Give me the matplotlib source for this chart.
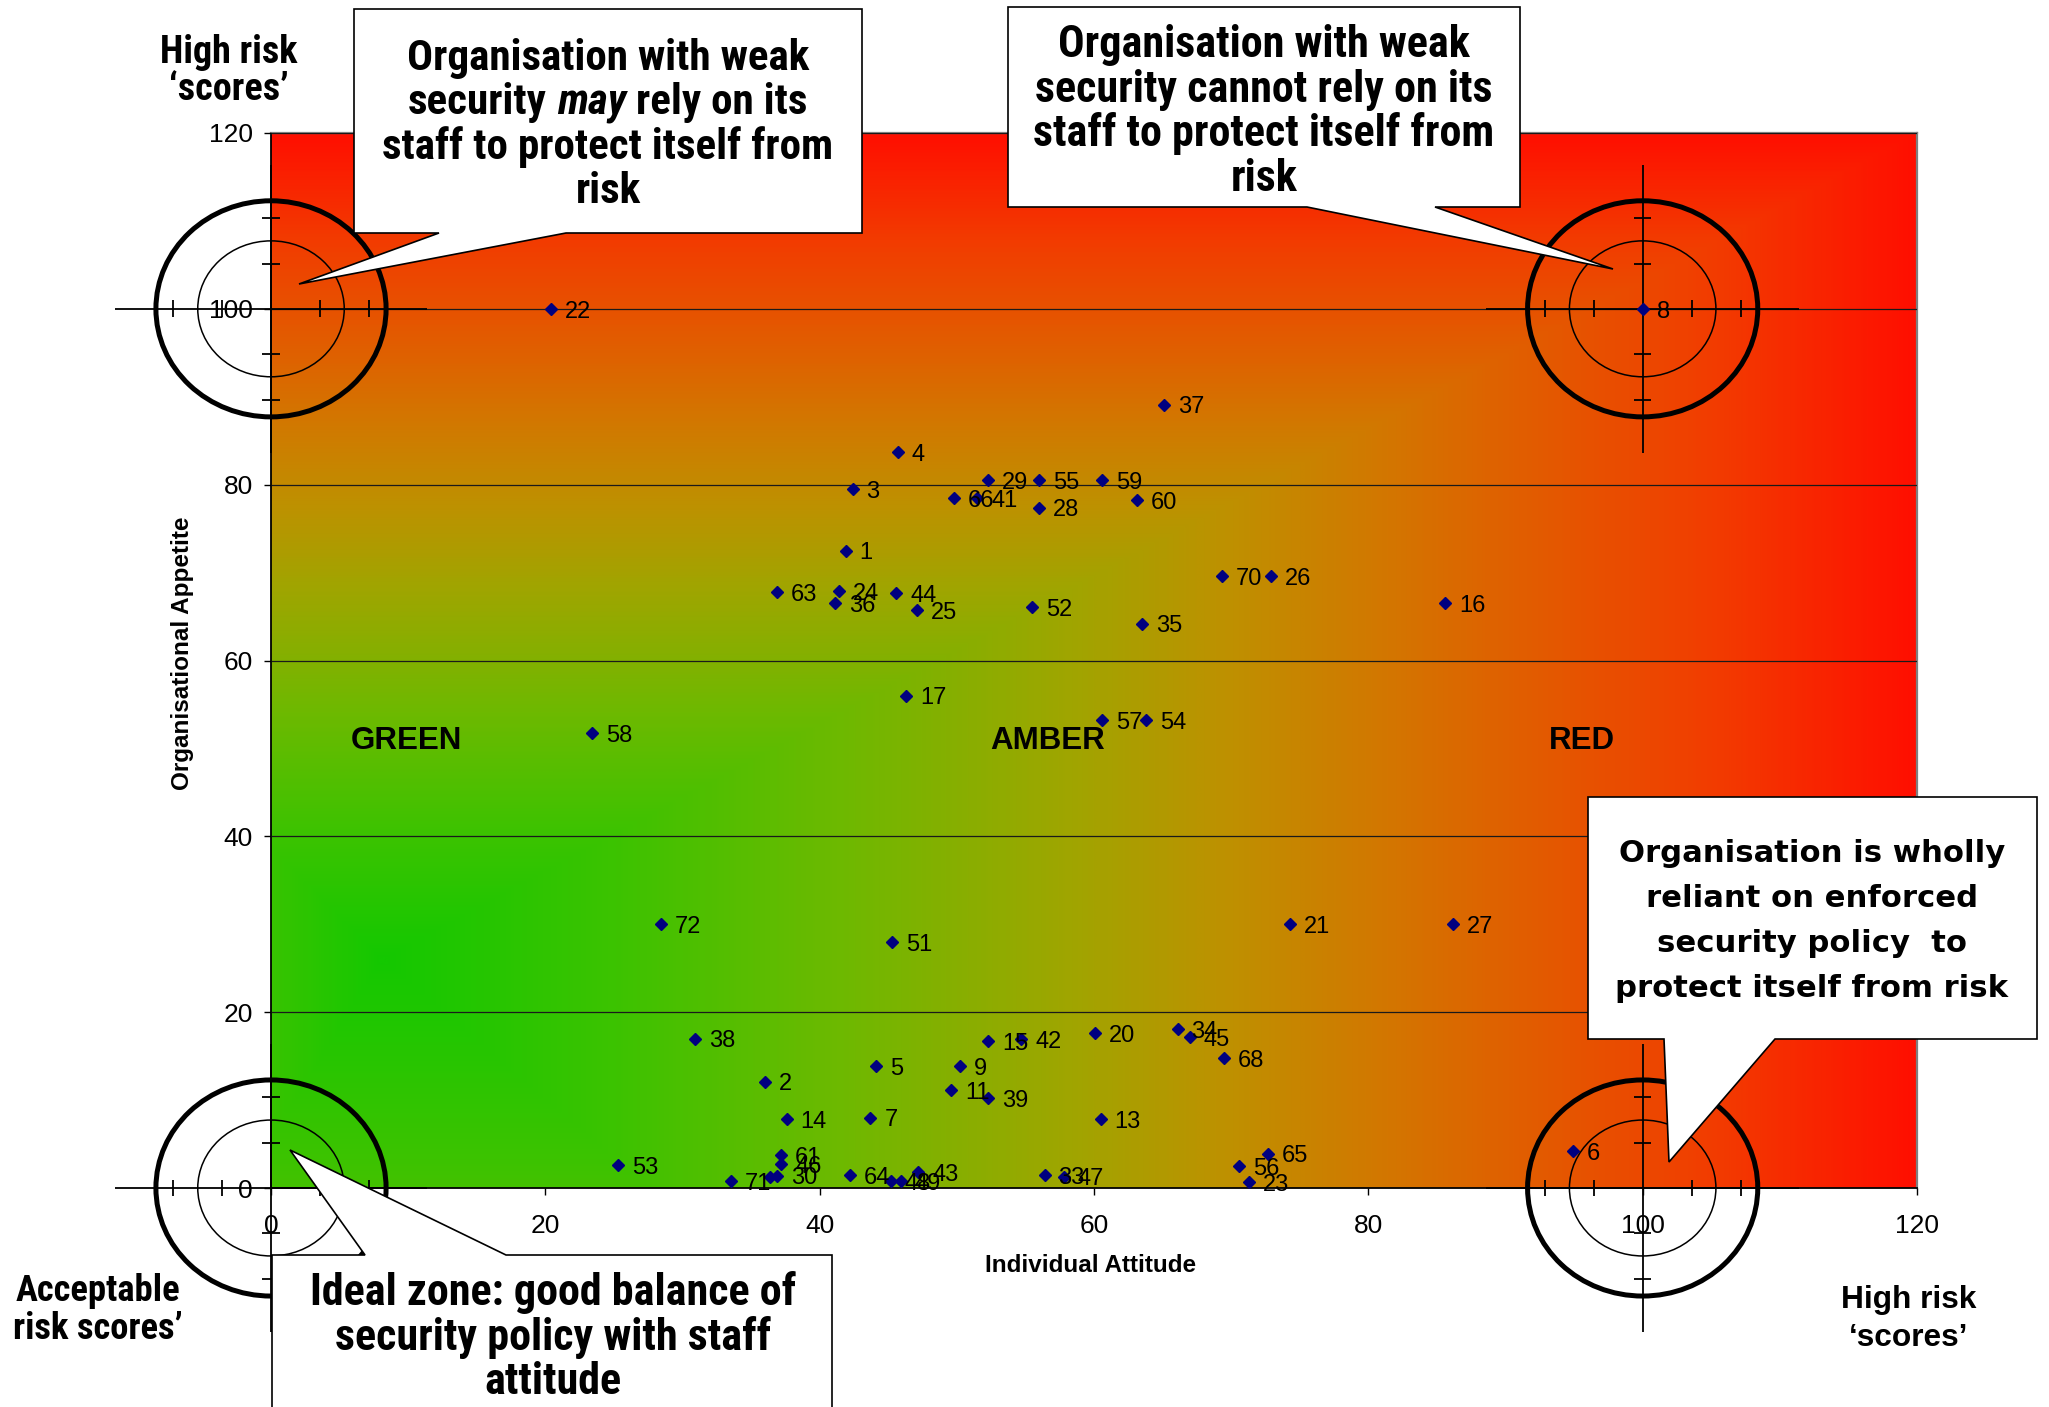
import numpy as np
import matplotlib
matplotlib.use("Agg")
import matplotlib.pyplot as plt
from matplotlib.colors import LinearSegmentedColormap
from matplotlib.patches import Ellipse, Polygon

W, H, DPI = 2049, 1407, 100

plt.rcParams['font.family'] = ['Liberation Sans', 'DejaVu Sans']
NARROW = ['Roboto Condensed', 'Open Sans Condensed', 'Liberation Sans Narrow',
          'Liberation Sans', 'DejaVu Sans']
WIDE = ['DejaVu Sans']

# respondents: id, individual attitude score, organisational appetite score
point_ids = ['1', '2', '3', '4', '5', '6', '7', '8', '9', '11', '13', '14', '15', '16',
             '17', '20', '21', '22', '23', '24', '25', '26', '27', '28', '29', '30', '',
             '33', '34', '35', '36', '37', '38', '39', '41', '42', '43', '44', '45', '46',
             '47', '48', '49', '51', '52', '53', '54', '55', '56', '57', '58', '59', '60',
             '61', '63', '64', '65', '66', '68', '70', '71', '72']
attitude = [41.9, 36.0, 42.4, 45.7, 44.1, 94.9, 43.7, 100.0, 50.2, 49.6, 60.5, 37.6, 52.3, 85.6,
            46.3, 60.1, 74.3, 20.4, 71.3, 41.4, 47.1, 72.9, 86.2, 56.0, 52.3, 36.9, 36.4,
            56.4, 66.1, 63.5, 41.1, 65.1, 30.9, 52.3, 51.5, 54.7, 47.2, 45.6, 67.0, 37.2,
            57.8, 45.2, 45.9, 45.3, 55.5, 25.3, 63.8, 56.0, 70.6, 60.6, 23.4, 60.6, 63.1,
            37.2, 36.9, 42.2, 72.7, 49.8, 69.5, 69.3, 33.5, 28.4]
appetite = [72.5, 12.1, 79.5, 83.7, 13.9, 4.2, 8.0, 100.0, 13.9, 11.1, 7.8, 7.8, 16.7, 66.5,
            56.0, 17.6, 30.0, 100.0, 0.7, 67.9, 65.7, 69.6, 30.0, 77.4, 80.5, 1.4, 1.3,
            1.5, 18.1, 64.2, 66.5, 89.1, 17.0, 10.2, 78.5, 16.9, 1.8, 67.7, 17.2, 2.7,
            1.3, 0.8, 0.8, 28.0, 66.1, 2.6, 53.2, 80.5, 2.5, 53.2, 51.7, 80.5, 78.2,
            3.7, 67.8, 1.5, 3.9, 78.5, 14.8, 69.6, 0.8, 30.0]

zone_names = ['GREEN', 'AMBER', 'RED']
zone_x = [9.9, 56.6, 95.6]
zone_y = 50.8

axis_ticks = [0, 20, 40, 60, 80, 100, 120]

# background fill: green centre running out to red at the top and right
fill_stops = [(0.00, '#14c800'), (0.15, '#3cc300'), (0.30, '#6eb900'),
              (0.45, '#a0a500'), (0.55, '#be9100'), (0.65, '#d27800'),
              (0.75, '#e25c00'), (0.87, '#f23c00'), (1.00, '#ff0f00')]
fill_centre = (8, 26)

# crosshair targets at the four corners of the scoring range
targets = [(0, 100), (100, 100), (0, 0), (100, 0)]
RX_OUT, RY_OUT = 8.39, 12.29
RX_IN, RY_IN = 5.34, 7.73
ARM_X, ARM_Y = 11.4, 16.4
TICK_X = [-7.15, -3.57, 3.57, 7.15]
TICK_Y = [-10.33, -5.13, 5.13, 10.33]
TICK_HX, TICK_HY = 0.64, 0.95

fig = plt.figure(figsize=(W / DPI, H / DPI), dpi=DPI)
fig.patch.set_facecolor('white')
ax = fig.add_axes([271 / W, 1 - 1188 / H, (1917 - 271) / W, (1188 - 133) / H])

cmap = LinearSegmentedColormap.from_list('zones', fill_stops)
gx, gy = np.meshgrid(np.linspace(0, 120, 600), np.linspace(0, 120, 600))
cx, cy = fill_centre
dx = np.where(gx >= cx, (gx - cx) / (120 - cx), (cx - gx) / 60)
dy = np.where(gy >= cy, (gy - cy) / (120 - cy), (cy - gy) / 150)
ax.imshow(np.maximum(dx, dy), cmap=cmap, vmin=0, vmax=1, origin='lower',
          extent=(0, 120, 0, 120), aspect='auto', interpolation='bilinear', zorder=0)

ax.set_xlim(0, 120)
ax.set_ylim(0, 120)
ax.set_xticks(axis_ticks)
ax.set_yticks(axis_ticks)
ax.set_axisbelow(False)
ax.yaxis.grid(True, color='#1a1a1a', lw=0.9)
ax.tick_params(axis='both', direction='out', length=5, width=1, labelsize=19)
ax.tick_params(axis='x', pad=14)
ax.tick_params(axis='y', pad=8)
for side in ('left', 'bottom'):
    ax.spines[side].set_color('black')
    ax.spines[side].set_linewidth(1.3)
for side in ('top', 'right'):
    ax.spines[side].set_color('#7f7f7f')
    ax.spines[side].set_linewidth(1.6)

for tx, ty in targets:
    kw = dict(color='black', lw=1.3, clip_on=False, zorder=3, solid_capstyle='butt')
    ax.add_patch(Ellipse((tx, ty), 2 * RX_OUT, 2 * RY_OUT, fill=False, ec='black',
                         lw=3.6, clip_on=False, zorder=3))
    ax.add_patch(Ellipse((tx, ty), 2 * RX_IN, 2 * RY_IN, fill=False, ec='black',
                         lw=1.1, clip_on=False, zorder=3))
    ax.plot([tx - ARM_X, tx + ARM_X], [ty, ty], **kw)
    ax.plot([tx, tx], [ty - ARM_Y, ty + ARM_Y], **kw)
    for d in TICK_X:
        ax.plot([tx + d, tx + d], [ty - TICK_HY, ty + TICK_HY], **kw)
    for d in TICK_Y:
        ax.plot([tx - TICK_HX, tx + TICK_HX], [ty + d, ty + d], **kw)

ax.plot(attitude, appetite, ls='none', marker='D', ms=5.8, color='#000080',
        mec='#000080', zorder=4, clip_on=False)
for pid, xv, yv in zip(point_ids, attitude, appetite):
    if pid:
        ax.annotate(pid, (xv, yv), xytext=(10, -2), textcoords='offset points',
                    ha='left', va='center', fontsize=17, zorder=5)

for name, zx in zip(zone_names, zone_x):
    ax.text(zx, zone_y, name, ha='center', va='center', fontsize=22.5,
            fontweight='bold', zorder=5)

fig.text(1091 / W, 1 - 1265 / H, 'Individual Attitude', ha='center', va='center',
         fontsize=17.5, fontweight='bold')
fig.text(183 / W, 1 - 653 / H, 'Organisational Appetite', ha='center', va='center',
         rotation=90, fontsize=17.5, fontweight='bold')

renderer = fig.canvas.get_renderer()


def text_width(s, size, family, style='normal'):
    t = fig.text(0, 0, s, fontsize=size, family=family, fontweight='bold', style=style)
    w = t.get_window_extent(renderer).width
    t.remove()
    return w


def text_block(lines, cx, cy, family, step, width):
    """Centred bold lines, sized so the widest line spans `width` pixels.
    A line may be a list of (words, style) runs."""
    lines = [ln if isinstance(ln, list) else [(ln, 'normal')] for ln in lines]

    def line_width(runs, size):
        gap = text_width('x x', size, family) - text_width('xx', size, family)
        return sum(text_width(s, size, family, st) for s, st in runs) + gap * (len(runs) - 1)

    size = 20 * width / max(line_width(r, 20) for r in lines)
    size_px = size * DPI / 72
    gap = text_width('x x', size, family) - text_width('xx', size, family)
    n = len(lines)
    for i, runs in enumerate(lines):
        base = cy + (i - (n - 1) / 2) * step + 0.36 * size_px
        x = cx - line_width(runs, size) / 2
        for s, st in runs:
            fig.text(x / W, 1 - base / H, s, fontsize=size, family=family,
                     fontweight='bold', style=st, ha='left', va='baseline', zorder=12)
            x += text_width(s, size, family, st) + gap


def callout(outline):
    pts = [(x / W, 1 - y / H) for x, y in outline]
    fig.add_artist(Polygon(pts, closed=True, fc='white', ec='black', lw=1.2,
                           transform=fig.transFigure, zorder=10, clip_on=False))


callout([(354, 9), (862, 9), (862, 233), (566, 233), (299, 284), (439, 233), (354, 233)])
text_block(['Organisation with weak',
            [('security', 'normal'), ('may', 'italic'), ('rely on its', 'normal')],
            'staff to protect itself from', 'risk'],
           608, 121, NARROW, 44.4, 450)

callout([(1008, 7), (1520, 7), (1520, 207), (1435, 207), (1613, 269), (1307, 207), (1008, 207)])
text_block(['Organisation with weak', 'security cannot rely on its',
            'staff to protect itself from', 'risk'],
           1264, 108, NARROW, 44.4, 461)

callout([(272, 1255), (365, 1255), (290, 1150), (506, 1255), (832, 1255), (832, 1440), (272, 1440)])
text_block(['Ideal zone: good balance of', 'security policy with staff', 'attitude'],
           553, 1334, NARROW, 44.4, 486)

callout([(1588, 797), (2037, 797), (2037, 1039), (1775, 1039), (1669, 1162), (1664, 1039), (1588, 1039)])
text_block(['Organisation is wholly', 'reliant on enforced',
            'security policy  to', 'protect itself from risk'],
           1812, 918, WIDE, 45, 392)

text_block(['High risk', '\u2018scores\u2019'], 229, 68, NARROW, 36.6, 137)
text_block(['Acceptable', 'risk scores\u2019'], 98, 1307, NARROW, 37.9, 170)
text_block(['High risk', '\u2018scores\u2019'], 1909, 1316, ['Liberation Sans'], 37.9, 135)

fig.savefig('out.png', dpi=DPI)
